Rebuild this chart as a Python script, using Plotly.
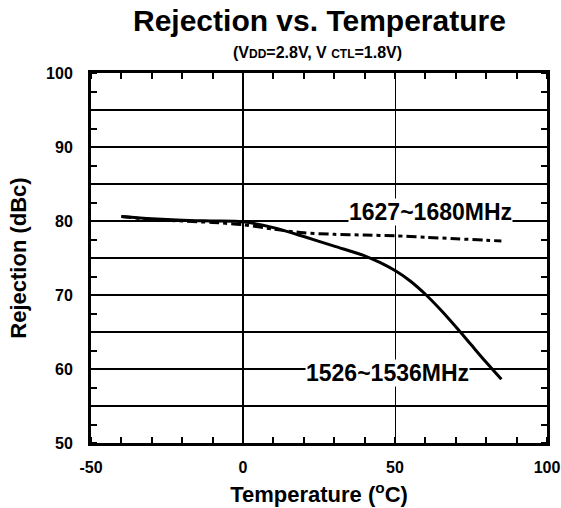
import plotly.graph_objects as go

# Data
temp_a = [-40, -30, -20, -10, 0, 10, 20, 30, 40, 45, 50, 55, 60, 65, 70, 75, 80, 85]
rej_a = [80.6, 80.3, 80.1, 80.0, 79.9, 79.1, 77.9, 76.6, 75.3, 74.4, 73.3, 71.9, 70.1, 68.0, 65.7, 63.3, 60.9, 58.6]
name_a = "1526~1536MHz"

temp_b = [-40, -30, -20, -10, 0, 10, 20, 30, 40, 50, 60, 70, 80, 85]
rej_b = [80.6, 80.2, 80.0, 79.8, 79.5, 78.9, 78.4, 78.2, 78.1, 78.0, 77.8, 77.6, 77.4, 77.3]
name_b = "1627~1680MHz"

x_range = [-50, 100]
y_range = [50, 100]
y_tickvals = [50, 55, 60, 65, 70, 75, 80, 85, 90, 95, 100]
y_ticktext = ["50", "", "60", "", "70", "", "80", "", "90", "", "100"]
x_tickvals = [-50, 0, 50, 100]
x_ticktext = ["-50", "0", "50", "100"]
x_minor_step = 10
y_minor_step = 2.5

FONT = "Liberation Sans, Arial, sans-serif"

fig = go.Figure()
fig.add_trace(go.Scatter(x=temp_a, y=rej_a, mode="lines",
                         line=dict(color="black", width=3, shape="spline", smoothing=0.8),
                         showlegend=False, name=name_a))
fig.add_trace(go.Scatter(x=temp_b, y=rej_b, mode="lines",
                         line=dict(color="black", width=3, dash="10px,4px,4px,4px", shape="spline", smoothing=0.8),
                         showlegend=False, name=name_b))

fig.add_annotation(x=61.8, y=81.2, text="<b>" + name_b + "</b>", showarrow=False,
                   font=dict(family=FONT, size=23, color="black"), bgcolor="white", borderpad=0)
fig.add_annotation(x=47.4, y=59.4, text="<b>" + name_a + "</b>", showarrow=False,
                   font=dict(family=FONT, size=23, color="black"), bgcolor="white", borderpad=0)

# Title and subtitle
fig.add_annotation(xref="paper", yref="paper", x=0.502, y=1.143, xanchor="center", yanchor="middle",
                   text="<b>Rejection vs. Temperature</b>", showarrow=False,
                   font=dict(family=FONT, size=30, color="black"))
fig.add_annotation(xref="paper", yref="paper", x=0.497, y=1.055, xanchor="center", yanchor="middle",
                   text="<b>(V<span style='font-size:12px'>DD</span>=2.8V, V <span style='font-size:12px'>CTL</span>=1.8V)</b>",
                   showarrow=False, font=dict(family=FONT, size=16, color="black"))

fig.update_layout(
    width=561, height=508,
    margin=dict(l=91, r=14, t=73, b=65, autoexpand=False),
    paper_bgcolor="white", plot_bgcolor="white",
    font=dict(family=FONT, color="black"),
    showlegend=False,
)
fig.update_xaxes(
    range=x_range, tickvals=x_tickvals, ticktext=["<b>%s</b>" % t for t in x_ticktext],
    showgrid=True, gridcolor="black", gridwidth=1,
    zeroline=True, zerolinecolor="black", zerolinewidth=2,
    showline=True, linecolor="black", linewidth=3, mirror="allticks",
    ticks="", tickfont=dict(family=FONT, size=16, color="black"),
    ticklabelstandoff=8,
    minor=dict(dtick=x_minor_step, tick0=0, ticks="inside", ticklen=6, tickwidth=2,
               tickcolor="black", showgrid=False),
    title=dict(text="<b>Temperature (<sup>o</sup>C)</b>", font=dict(family=FONT, size=22, color="black"), standoff=12),
)
fig.update_yaxes(
    range=y_range, tickvals=y_tickvals, ticktext=["<b>%s</b>" % t if t else "" for t in y_ticktext],
    showgrid=True, gridcolor="black", gridwidth=2,
    zeroline=False,
    showline=True, linecolor="black", linewidth=3, mirror="allticks",
    ticks="", tickfont=dict(family=FONT, size=16, color="black"),
    ticklabelstandoff=12,
    minor=dict(dtick=y_minor_step, tick0=0, ticks="inside", ticklen=6, tickwidth=2,
               tickcolor="black", showgrid=False),
    title=dict(text="<b>Rejection (dBc)</b>", font=dict(family=FONT, size=22, color="black"), standoff=14),
)

fig.write_html("out.html", config={"displayModeBar": False},
               post_script="document.body.style.margin='0';")
